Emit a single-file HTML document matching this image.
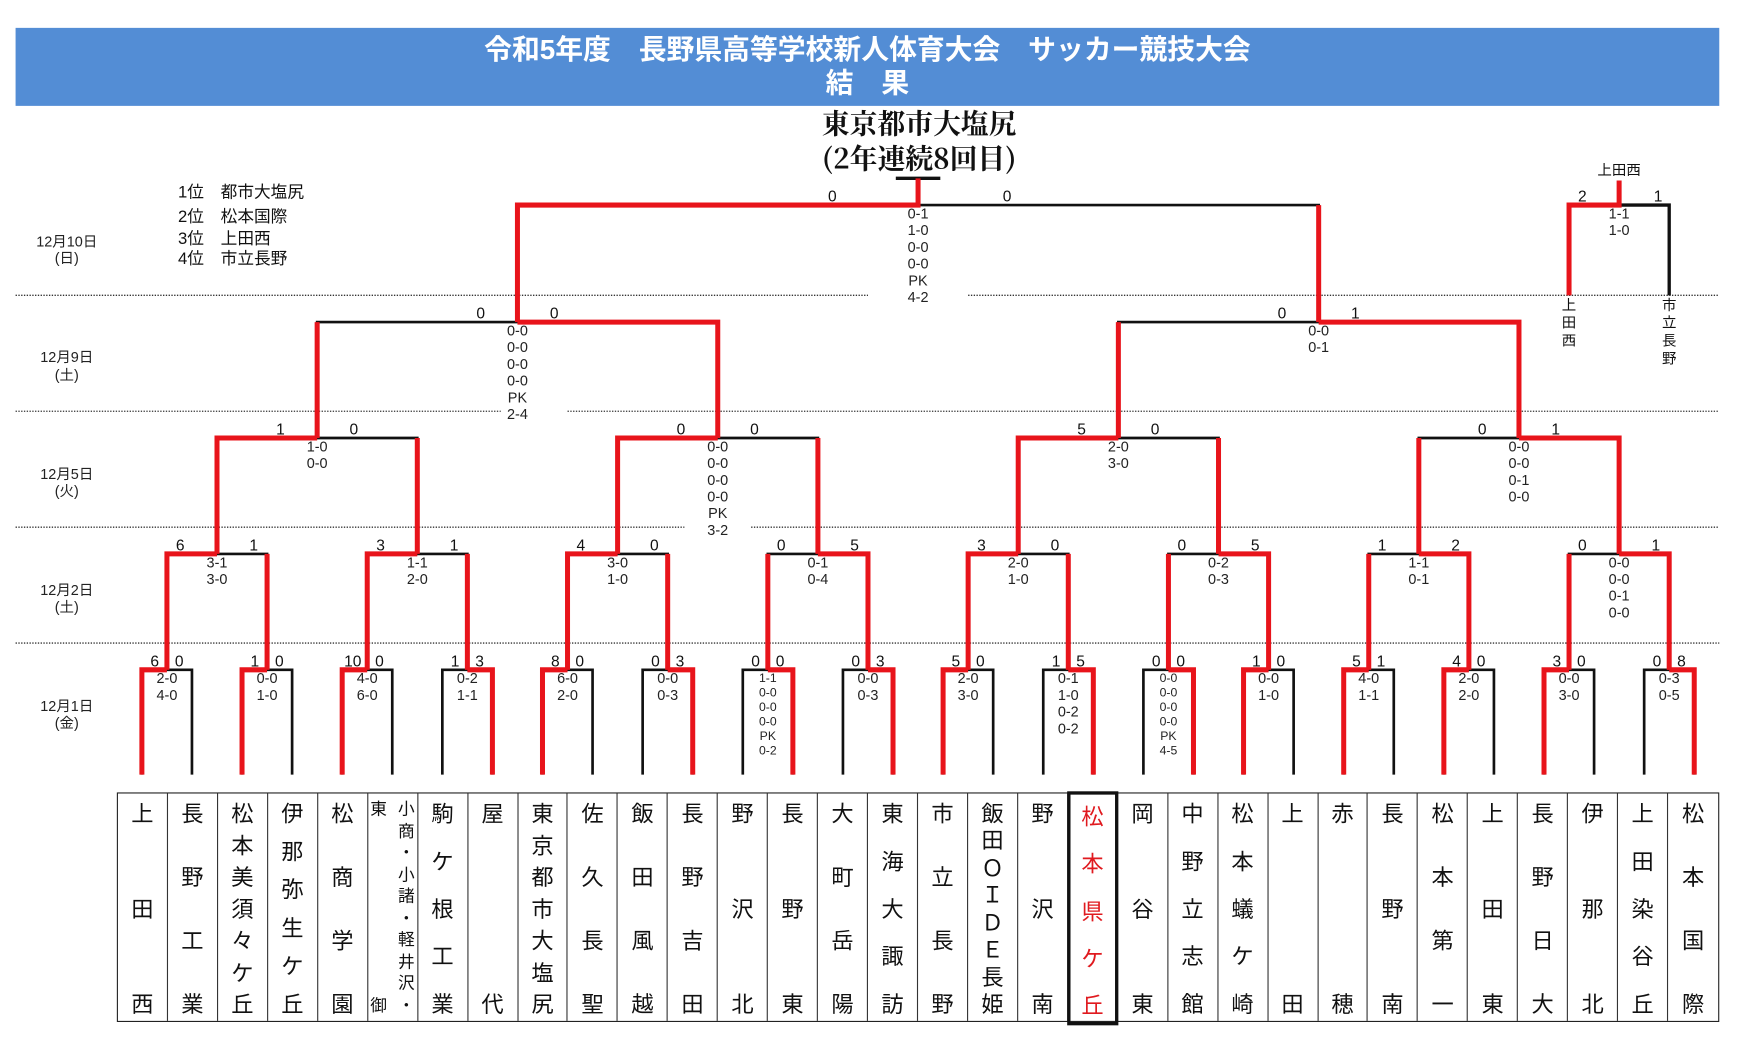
<!DOCTYPE html>
<html><head><meta charset="utf-8"><style>
html,body{margin:0;padding:0;background:#fff;overflow:hidden;width:1743px;height:1045px}
#s{position:absolute;left:0;top:0;width:1560px;height:935px;transform:scale(1.1128,1.1145);transform-origin:0 0}
#hdr{position:absolute;left:14px;top:25px;width:1531px;height:70px;background:#538dd5;color:#fff;font:bold 25px "Liberation Sans","Noto Sans CJK JP",sans-serif;text-align:center;line-height:30px;padding-top:5px;box-sizing:border-box}
#tbl{position:absolute;left:105px;top:711px;width:1440px;height:206px;border:1.5px solid #222;box-sizing:border-box;display:flex}
.c{width:45px;height:100%;border-right:1.2px solid #333;box-sizing:border-box;display:flex;flex-direction:column;justify-content:space-between;align-items:center;padding:5px 0 4px;font:20px "Noto Sans CJK JP",sans-serif;line-height:24px;color:#111}
.c:last-child{border-right:none}
.hl{border:3.5px solid #111;color:#e01a1f;width:46px;margin-left:-1px;height:210px;margin-top:-2px;padding-top:7px}
.cm{flex-direction:row;justify-content:space-between;align-items:stretch;padding:6px 2px 6px}
.cm div{height:100%;display:flex;flex-direction:column;justify-content:space-between;align-items:center;font-size:15px;line-height:16px}
svg{position:absolute;left:0;top:0}
</style></head><body><div id="s">
<div id="hdr">令和5年度　長野県高等学校新人体育大会　サッカー競技大会<br>結　果</div>
<svg width="1560" height="935" viewBox="0 0 1560 935">
<g stroke="#333" stroke-width="1.2" stroke-dasharray="1.2,1.3">
<path d="M14 265H780M870 265H1545M14 369H450M510 369H1545M14 473H615M675 473H1545M14 577H1545"/>
</g>
<g font-family="Noto Serif CJK JP,Noto Serif CJK SC,serif" font-size="25" font-weight="bold" text-anchor="middle" fill="#111">
<text x="826" y="120">東京都市大塩尻</text>
<text x="826" y="151">(2年連続8回目)</text>
</g>
<g font-family="Liberation Sans,Noto Sans CJK JP,sans-serif" font-size="15" fill="#111">
<text x="160" y="177">1位　都市大塩尻</text>
<text x="160" y="199">2位　松本国際</text>
<text x="160" y="219">3位　上田西</text>
<text x="160" y="237">4位　市立長野</text>
</g>
<g font-family="Liberation Sans,Noto Sans CJK JP,sans-serif" font-size="13" fill="#222" text-anchor="middle">
<text x="60" y="221">12月10日</text><text x="60" y="236">(日)</text>
<text x="60" y="325">12月9日</text><text x="60" y="341">(土)</text>
<text x="60" y="430">12月5日</text><text x="60" y="445">(火)</text>
<text x="60" y="534">12月2日</text><text x="60" y="549">(土)</text>
<text x="60" y="638">12月1日</text><text x="60" y="653">(金)</text>
</g>
<g fill="none" stroke="#111" stroke-width="2.4">
<path d="M127.5 695V601H172.5V695M217.5 695V601H262.5V695M307.5 695V601H352.5V695M397.5 695V601H442.5V695M487.5 695V601H532.5V695M577.5 695V601H622.5V695M667.5 695V601H712.5V695M757.5 695V601H802.5V695M847.5 695V601H892.5V695M937.5 695V601H982.5V695M1027.5 695V601H1072.5V695M1117.5 695V601H1162.5V695M1207.5 695V601H1252.5V695M1297.5 695V601H1342.5V695M1387.5 695V601H1432.5V695M1477.5 695V601H1522.5V695"/>
<path d="M150 601V497H240V601M330 601V497H420V601M510 601V497H600V601M690 601V497H780V601M870 601V497H960V601M1050 601V497H1140V601M1230 601V497H1320V601M1410 601V497H1500V601"/>
<path d="M195 497V393H375V497M555 497V393H735V497M915 497V393H1095V497M1275 497V393H1455V497"/>
<path d="M285 393V289H645V393M1005 393V289H1365V393"/>
<path d="M465 289V184H1185V289"/>
<path d="M1410 265V184H1500V265" stroke-width="3"/>
<path d="M805 160H845" stroke-width="3"/>
</g>
<g fill="none" stroke="#e8141b" stroke-width="4.5">
<path d="M127.5 695V601H150M217.5 695V601H240M307.5 695V601H330M442.5 695V601H420M487.5 695V601H510M622.5 695V601H600M712.5 695V601H690M802.5 695V601H780M847.5 695V601H870M982.5 695V601H960M1072.5 695V601H1050M1117.5 695V601H1140M1207.5 695V601H1230M1297.5 695V601H1320M1387.5 695V601H1410M1522.5 695V601H1500"/>
<path d="M150 601V497H195M240 601V497M330 601V497H375M420 601V497M510 601V497H555M600 601V497M780 601V497H735M690 601V497M870 601V497H915M960 601V497M1140 601V497H1095M1050 601V497M1320 601V497H1275M1230 601V497M1500 601V497H1455M1410 601V497"/>
<path d="M195 497V393H285M375 497V393M555 497V393H645M735 497V393M915 497V393H1005M1095 497V393M1455 497V393H1365M1275 497V393"/>
<path d="M645 393V289H465M285 393V289M1365 393V289H1185M1005 393V289"/>
<path d="M465 289V184H825V160M1185 289V184"/>
<path d="M1410 265V184H1455V162"/>
</g>
<g font-family="Liberation Sans,sans-serif" font-size="14" fill="#111" text-anchor="middle">
<text x="139" y="598">6</text><text x="161" y="598">0</text>
<text x="229" y="598">1</text><text x="251" y="598">0</text>
<text x="317" y="598">10</text><text x="341" y="598">0</text>
<text x="409" y="598">1</text><text x="431" y="598">3</text>
<text x="499" y="598">8</text><text x="521" y="598">0</text>
<text x="589" y="598">0</text><text x="611" y="598">3</text>
<text x="679" y="598">0</text><text x="701" y="598">0</text>
<text x="769" y="598">0</text><text x="791" y="598">3</text>
<text x="859" y="598">5</text><text x="881" y="598">0</text>
<text x="949" y="598">1</text><text x="971" y="598">5</text>
<text x="1039" y="598">0</text><text x="1061" y="598">0</text>
<text x="1129" y="598">1</text><text x="1151" y="598">0</text>
<text x="1219" y="598">5</text><text x="1241" y="598">1</text>
<text x="1309" y="598">4</text><text x="1331" y="598">0</text>
<text x="1399" y="598">3</text><text x="1421" y="598">0</text>
<text x="1489" y="598">0</text><text x="1511" y="598">8</text>
<text x="162" y="494">6</text><text x="228" y="494">1</text>
<text x="342" y="494">3</text><text x="408" y="494">1</text>
<text x="522" y="494">4</text><text x="588" y="494">0</text>
<text x="702" y="494">0</text><text x="768" y="494">5</text>
<text x="882" y="494">3</text><text x="948" y="494">0</text>
<text x="1062" y="494">0</text><text x="1128" y="494">5</text>
<text x="1242" y="494">1</text><text x="1308" y="494">2</text>
<text x="1422" y="494">0</text><text x="1488" y="494">1</text>
<text x="252" y="390">1</text><text x="318" y="390">0</text>
<text x="612" y="390">0</text><text x="678" y="390">0</text>
<text x="972" y="390">5</text><text x="1038" y="390">0</text>
<text x="1332" y="390">0</text><text x="1398" y="390">1</text>
<text x="432" y="286">0</text><text x="498" y="286">0</text>
<text x="1152" y="286">0</text><text x="1218" y="286">1</text>
<text x="748" y="181">0</text><text x="905" y="181">0</text>
<text x="1422" y="181">2</text><text x="1490" y="181">1</text>
</g>
<g font-family="Liberation Sans,sans-serif" font-size="13" fill="#222" text-anchor="middle">
<text x="150" y="613">2-0<tspan x="150" dy="15">4-0</tspan></text>
<text x="240" y="613">0-0<tspan x="240" dy="15">1-0</tspan></text>
<text x="330" y="613">4-0<tspan x="330" dy="15">6-0</tspan></text>
<text x="420" y="613">0-2<tspan x="420" dy="15">1-1</tspan></text>
<text x="510" y="613">6-0<tspan x="510" dy="15">2-0</tspan></text>
<text x="600" y="613">0-0<tspan x="600" dy="15">0-3</tspan></text>
<text x="690" y="612" font-size="11">1-1<tspan x="690" dy="13">0-0</tspan><tspan x="690" dy="13">0-0</tspan><tspan x="690" dy="13">0-0</tspan><tspan x="690" dy="13">PK</tspan><tspan x="690" dy="13">0-2</tspan></text>
<text x="780" y="613">0-0<tspan x="780" dy="15">0-3</tspan></text>
<text x="870" y="613">2-0<tspan x="870" dy="15">3-0</tspan></text>
<text x="960" y="613">0-1<tspan x="960" dy="15">1-0</tspan><tspan x="960" dy="15">0-2</tspan><tspan x="960" dy="15">0-2</tspan></text>
<text x="1050" y="612" font-size="11">0-0<tspan x="1050" dy="13">0-0</tspan><tspan x="1050" dy="13">0-0</tspan><tspan x="1050" dy="13">0-0</tspan><tspan x="1050" dy="13">PK</tspan><tspan x="1050" dy="13">4-5</tspan></text>
<text x="1140" y="613">0-0<tspan x="1140" dy="15">1-0</tspan></text>
<text x="1230" y="613">4-0<tspan x="1230" dy="15">1-1</tspan></text>
<text x="1320" y="613">2-0<tspan x="1320" dy="15">2-0</tspan></text>
<text x="1410" y="613">0-0<tspan x="1410" dy="15">3-0</tspan></text>
<text x="1500" y="613">0-3<tspan x="1500" dy="15">0-5</tspan></text>
<text x="195" y="509">3-1<tspan x="195" dy="15">3-0</tspan></text>
<text x="375" y="509">1-1<tspan x="375" dy="15">2-0</tspan></text>
<text x="555" y="509">3-0<tspan x="555" dy="15">1-0</tspan></text>
<text x="735" y="509">0-1<tspan x="735" dy="15">0-4</tspan></text>
<text x="915" y="509">2-0<tspan x="915" dy="15">1-0</tspan></text>
<text x="1095" y="509">0-2<tspan x="1095" dy="15">0-3</tspan></text>
<text x="1275" y="509">1-1<tspan x="1275" dy="15">0-1</tspan></text>
<text x="1455" y="509">0-0<tspan x="1455" dy="15">0-0</tspan><tspan x="1455" dy="15">0-1</tspan><tspan x="1455" dy="15">0-0</tspan></text>
<text x="285" y="405">1-0<tspan x="285" dy="15">0-0</tspan></text>
<text x="645" y="405">0-0<tspan x="645" dy="15">0-0</tspan><tspan x="645" dy="15">0-0</tspan><tspan x="645" dy="15">0-0</tspan><tspan x="645" dy="15">PK</tspan><tspan x="645" dy="15">3-2</tspan></text>
<text x="1005" y="405">2-0<tspan x="1005" dy="15">3-0</tspan></text>
<text x="1365" y="405">0-0<tspan x="1365" dy="15">0-0</tspan><tspan x="1365" dy="15">0-1</tspan><tspan x="1365" dy="15">0-0</tspan></text>
<text x="465" y="301">0-0<tspan x="465" dy="15">0-0</tspan><tspan x="465" dy="15">0-0</tspan><tspan x="465" dy="15">0-0</tspan><tspan x="465" dy="15">PK</tspan><tspan x="465" dy="15">2-4</tspan></text>
<text x="1185" y="301">0-0<tspan x="1185" dy="15">0-1</tspan></text>
<text x="825" y="196">0-1<tspan x="825" dy="15">1-0</tspan><tspan x="825" dy="15">0-0</tspan><tspan x="825" dy="15">0-0</tspan><tspan x="825" dy="15">PK</tspan><tspan x="825" dy="15">4-2</tspan></text>
<text x="1455" y="196">1-1<tspan x="1455" dy="15">1-0</tspan></text>
</g>
<g font-family="Noto Sans CJK JP,sans-serif" font-size="13" fill="#111" text-anchor="middle">
<text x="1455" y="157">上田西</text>
<text x="1410" y="278">上<tspan x="1410" dy="16">田</tspan><tspan x="1410" dy="16">西</tspan></text>
<text x="1500" y="278">市<tspan x="1500" dy="16">立</tspan><tspan x="1500" dy="16">長</tspan><tspan x="1500" dy="16">野</tspan></text>
</g>
</svg>
<div id="tbl">
<div class="c"><span>上</span><span>田</span><span>西</span></div>
<div class="c"><span>長</span><span>野</span><span>工</span><span>業</span></div>
<div class="c"><span>松</span><span>本</span><span>美</span><span>須</span><span>々</span><span>ケ</span><span>丘</span></div>
<div class="c"><span>伊</span><span>那</span><span>弥</span><span>生</span><span>ケ</span><span>丘</span></div>
<div class="c"><span>松</span><span>商</span><span>学</span><span>園</span></div>
<div class="c cm"><div><span>東</span><span>御</span></div><div><span>小</span><span>商</span><span>・</span><span>小</span><span>諸</span><span>・</span><span>軽</span><span>井</span><span>沢</span><span>・</span></div></div>
<div class="c"><span>駒</span><span>ケ</span><span>根</span><span>工</span><span>業</span></div>
<div class="c"><span>屋</span><span>代</span></div>
<div class="c"><span>東</span><span>京</span><span>都</span><span>市</span><span>大</span><span>塩</span><span>尻</span></div>
<div class="c"><span>佐</span><span>久</span><span>長</span><span>聖</span></div>
<div class="c"><span>飯</span><span>田</span><span>風</span><span>越</span></div>
<div class="c"><span>長</span><span>野</span><span>吉</span><span>田</span></div>
<div class="c"><span>野</span><span>沢</span><span>北</span></div>
<div class="c"><span>長</span><span>野</span><span>東</span></div>
<div class="c"><span>大</span><span>町</span><span>岳</span><span>陽</span></div>
<div class="c"><span>東</span><span>海</span><span>大</span><span>諏</span><span>訪</span></div>
<div class="c"><span>市</span><span>立</span><span>長</span><span>野</span></div>
<div class="c"><span>飯</span><span>田</span><span>Ｏ</span><span>Ｉ</span><span>Ｄ</span><span>Ｅ</span><span>長</span><span>姫</span></div>
<div class="c"><span>野</span><span>沢</span><span>南</span></div>
<div class="c hl"><span>松</span><span>本</span><span>県</span><span>ケ</span><span>丘</span></div>
<div class="c"><span>岡</span><span>谷</span><span>東</span></div>
<div class="c"><span>中</span><span>野</span><span>立</span><span>志</span><span>館</span></div>
<div class="c"><span>松</span><span>本</span><span>蟻</span><span>ケ</span><span>崎</span></div>
<div class="c"><span>上</span><span>田</span></div>
<div class="c"><span>赤</span><span>穂</span></div>
<div class="c"><span>長</span><span>野</span><span>南</span></div>
<div class="c"><span>松</span><span>本</span><span>第</span><span>一</span></div>
<div class="c"><span>上</span><span>田</span><span>東</span></div>
<div class="c"><span>長</span><span>野</span><span>日</span><span>大</span></div>
<div class="c"><span>伊</span><span>那</span><span>北</span></div>
<div class="c"><span>上</span><span>田</span><span>染</span><span>谷</span><span>丘</span></div>
<div class="c"><span>松</span><span>本</span><span>国</span><span>際</span></div>
</div>
</div></body></html>
